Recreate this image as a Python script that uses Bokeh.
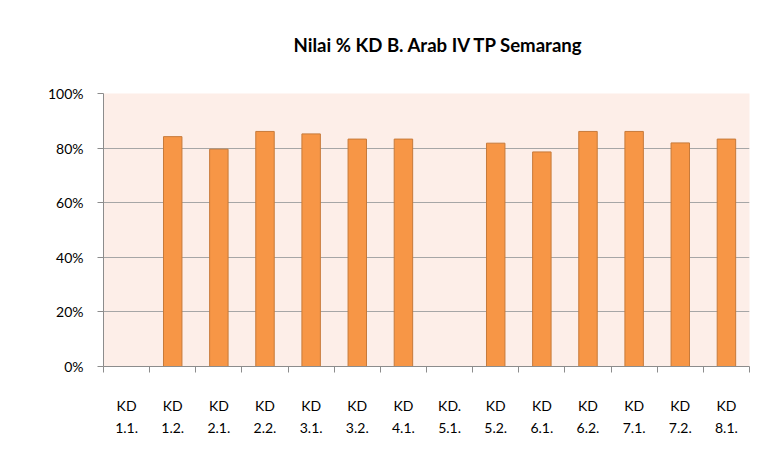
import math
from bokeh.plotting import figure
from bokeh.models import Range1d, FixedTicker, NumeralTickFormatter, CustomJSTickFormatter, ColumnDataSource, Title
from bokeh.embed import file_html
from bokeh.resources import INLINE

categories = ["KD\n1.1.", "KD\n1.2.", "KD\n2.1.", "KD\n2.2.", "KD\n3.1.", "KD\n3.2.", "KD\n4.1.",
              "KD.\n5.1.", "KD\n5.2.", "KD\n6.1.", "KD\n6.2.", "KD\n7.1.", "KD\n7.2.", "KD\n8.1."]
values = [None, 84.2, 79.6, 86.1, 85.2, 83.3, 83.3, None, 81.8, 78.6, 86.1, 86.1, 81.9, 83.3]
y_ticks = [0, 0.2, 0.4, 0.6, 0.8, 1.0]
title_text = "Nilai % KD B. Arab IV TP Semarang"

n = len(categories)
centers = [i + 0.5 for i in range(n)]
bounds = [i for i in range(n + 1)]
tops = [float("nan") if v is None else v / 100.0 for v in values]

src = ColumnDataSource(dict(x=centers, top=tops))

p = figure(width=769, height=457, output_backend="svg", toolbar_location=None,
           x_range=Range1d(0, n), y_range=Range1d(0, 1),
           min_border_left=103, min_border_right=20, min_border_top=93, min_border_bottom=91)
p.background_fill_color = "#FDEEE8"
p.border_fill_color = "white"
p.outline_line_color = None

# spacer between title and plot area (closest to the frame)
p.add_layout(Title(text=" ", text_font_size="12px", standoff=17), "above")
main_title = Title(text=title_text, align="left", offset=190,
                   text_font="Lato", text_font_size="18.6px", text_font_style="bold",
                   text_color="#000000")
p.add_layout(main_title, "above")

p.vbar(x="x", top="top", width=0.4, bottom=0, source=src,
       fill_color="#F79646", line_color="#C77A3A", line_width=1)

# y axis
p.yaxis.ticker = FixedTicker(ticks=y_ticks)
p.yaxis.formatter = NumeralTickFormatter(format="0%")
p.yaxis.axis_line_color = "#8C8C8C"
p.yaxis.major_tick_line_color = "#8C8C8C"
p.yaxis.major_tick_out = 6
p.yaxis.major_tick_in = 0
p.yaxis.minor_tick_line_color = None
p.yaxis.major_label_text_font = "Lato"
p.yaxis.major_label_text_font_size = "14px"
p.yaxis.major_label_text_color = "#000000"
p.yaxis.major_label_standoff = 14

p.ygrid.grid_line_color = "#A6A6A6"
p.ygrid.ticker = FixedTicker(ticks=y_ticks)
p.xgrid.visible = False

# x axis
p.xaxis.ticker = FixedTicker(ticks=centers, minor_ticks=bounds)
p.xaxis.formatter = CustomJSTickFormatter(args=dict(labels=categories),
                                          code="return labels[Math.floor(tick)];")
p.xaxis.axis_line_color = "#8C8C8C"
p.xaxis.major_tick_out = 0
p.xaxis.major_tick_in = 0
p.xaxis.minor_tick_out = 6
p.xaxis.minor_tick_in = 0
p.xaxis.minor_tick_line_color = "#8C8C8C"
p.xaxis.major_label_text_font = "Lato"
p.xaxis.major_label_text_font_size = "14px"
p.xaxis.major_label_text_color = "#000000"
p.xaxis.major_label_text_line_height = 1.3
p.xaxis.major_label_standoff = 24

open("out.html", "w").write(file_html(p, INLINE))
